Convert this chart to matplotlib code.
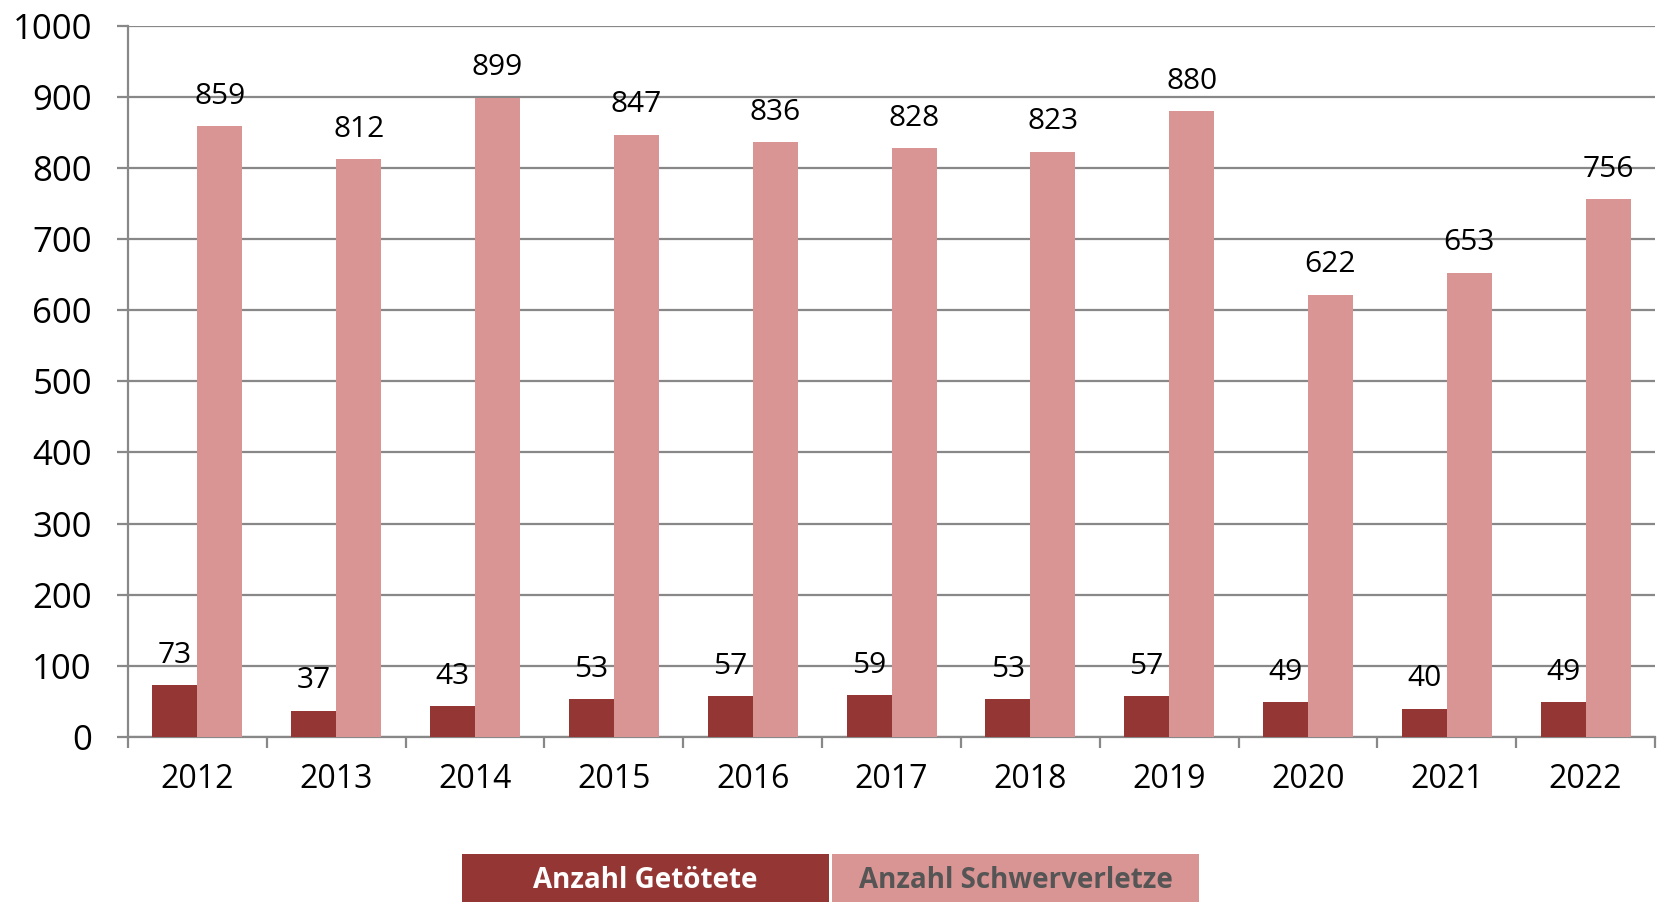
import matplotlib
matplotlib.use("Agg")
import matplotlib.pyplot as plt
from matplotlib.patches import Rectangle
import numpy as np

plt.rcParams['font.family'] = ['Open Sans', 'DejaVu Sans']

years = ["2012", "2013", "2014", "2015", "2016", "2017", "2018", "2019", "2020", "2021", "2022"]
getoetete = [73, 37, 43, 53, 57, 59, 53, 57, 49, 40, 49]
schwerverletzte = [859, 812, 899, 847, 836, 828, 823, 880, 622, 653, 756]
yticks = [0, 100, 200, 300, 400, 500, 600, 700, 800, 900, 1000]

dark = "#943634"
light = "#D99594"
grid = "#888888"

fig = plt.figure(figsize=(16.65, 9.02), dpi=100)
ax = fig.add_axes([0.0769, 0.1829, 0.994 - 0.0769, 0.9715 - 0.1829])

x = np.arange(len(years))
w = 0.324
b1 = ax.bar(x - w / 2, getoetete, w, color=dark, zorder=3)
b2 = ax.bar(x + w / 2, schwerverletzte, w, color=light, zorder=3)

for bars, vals in ((b1, getoetete), (b2, schwerverletzte)):
    for rect, v in zip(bars, vals):
        ax.annotate(str(v), (rect.get_x() + rect.get_width() / 2, rect.get_height()),
                    xytext=(0, 11), textcoords="offset points", ha="center", va="bottom",
                    fontsize=21.5, color="black", zorder=4)

ax.set_xlim(-0.5, len(years) - 0.5)
ax.set_ylim(0, 1000)
ax.set_yticks(yticks)
ax.set_yticklabels([str(t) for t in yticks], fontsize=25)
ax.yaxis.grid(True, color=grid, linewidth=1.6, zorder=0)
ax.set_axisbelow(True)

ax.set_xticks(x)
ax.set_xticklabels(years, fontsize=23)
ax.set_xticks(np.arange(len(years) + 1) - 0.5, minor=True)
ax.tick_params(axis="x", which="major", length=0, pad=19)
ax.tick_params(axis="x", which="minor", length=8, width=1.6, color=grid, direction="out")
ax.tick_params(axis="y", length=8, width=1.6, color=grid, pad=18)

for s in ("top", "right"):
    ax.spines[s].set_visible(False)
for s in ("left", "bottom"):
    ax.spines[s].set_color(grid)
    ax.spines[s].set_linewidth(1.6)

# legend boxes at the bottom
W, H = 1665.0, 902.0
fig.patches.append(Rectangle((462 / W, 0), (829 - 462) / W, (902 - 854) / H,
                             transform=fig.transFigure, facecolor=dark, edgecolor="none"))
fig.patches.append(Rectangle((832 / W, 0), (1199 - 832) / W, (902 - 854) / H,
                             transform=fig.transFigure, facecolor=light, edgecolor="none"))
fig.text((462 + 829) / 2 / W, 1 - 880 / H, "Anzahl Getötete", ha="center", va="center",
         fontsize=20, fontweight="bold", color="white")
fig.text((832 + 1199) / 2 / W, 1 - 880 / H, "Anzahl Schwerverletze", ha="center", va="center",
         fontsize=20, fontweight="bold", color="#555555")

fig.savefig("out.png", dpi=100)
